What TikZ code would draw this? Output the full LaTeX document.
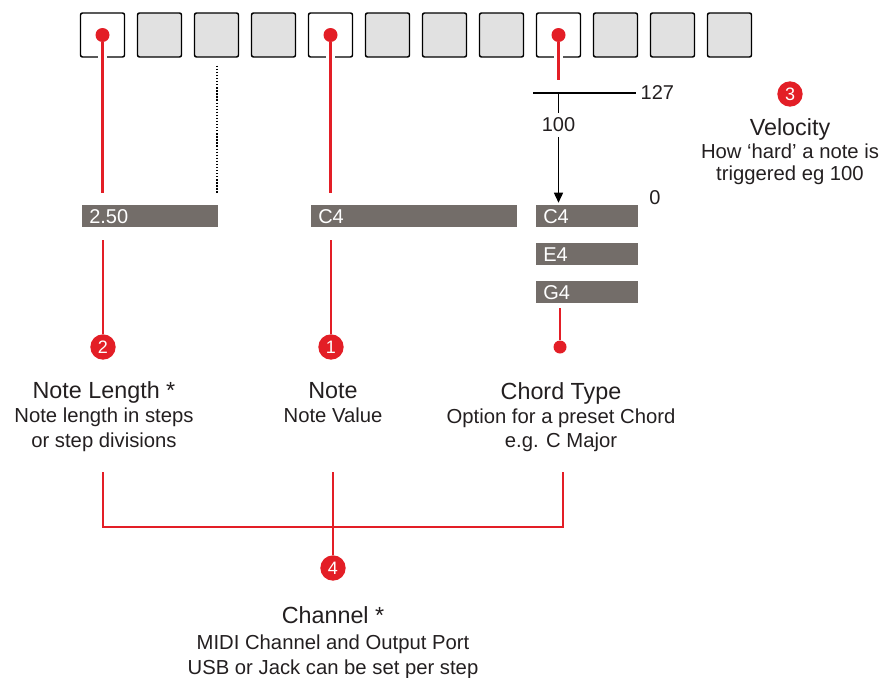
\documentclass[tikz,border=0pt]{standalone}
\usepackage{fontspec}
\setmainfont{Liberation Sans}
\usepackage{xcolor}
\usetikzlibrary{arrows.meta}
\definecolor{marker-red}{HTML}{E31E26}
\definecolor{bar-grey}{HTML}{736D69}
\definecolor{step-grey}{HTML}{E1E1E1}
\definecolor{ink}{HTML}{231F20}

\begin{document}
\begin{tikzpicture}[x=0.75pt, y=-0.75pt,
      every node/.style={text=ink},
      stepbox/.style={draw=black, line width=1.1pt, rounded corners=1.5pt,
                      minimum size=33pt, inner sep=0pt},
      stepdot/.style={circle, fill=marker-red, minimum size=10.5pt, inner sep=0pt},
      valbar/.style={fill=bar-grey, text=white, anchor=west, align=left,
                     minimum height=16.5pt, inner xsep=5.25pt, inner ysep=0pt,
                     text height=10.7pt, text depth=0pt,
                     font=\fontsize{15}{15}\selectfont},
      vallabel/.style={font=\fontsize{15}{15}\selectfont},
      marker/.style={circle, fill=marker-red, text=white, minimum size=19pt,
                     inner sep=0pt, font=\fontsize{13.5}{13.5}\selectfont},
      title/.style={anchor=base, font=\fontsize{17.5}{20}\selectfont},
      subtitle/.style={anchor=base, font=\fontsize{15.2}{18}\selectfont},
      redline/.style={draw=marker-red, line width=1.9pt},
      gap/.style={preaction={draw=white, line width=6.75pt}},
      blackline/.style={draw=black, line width=1.1pt},
      dotline/.style={draw=black, line width=1.5pt, dash pattern=on 1pt off 1.3pt}]
    \useasboundingbox (0,0) rectangle (885,678);

    % step row
    \foreach \i in {1,2,3,5,6,7,9,10,11}
      \node[stepbox, fill=step-grey] (s\i) at ({102.5+57*\i},35) {};
    \foreach \i in {0,4,8}
      \node[stepbox, fill=white] (s\i) at ({102.5+57*\i},35) {};
    \foreach \i in {0,4,8}
      \node[stepdot] (d\i) at (s\i.center) {};

    % value bars
    \node[valbar, text width=91.5pt] (blen) at (82,216) {2.50};
    \node[valbar, text width=144pt] (bnote) at (311,216) {C4};
    \node[valbar, text width=66pt] (bc) at (536,216) {C4};
    \node[valbar, text width=66pt] (be) at (536,254) {E4};
    \node[valbar, text width=66pt] (bg) at (536,292) {G4};

    \draw[dotline, shorten <=6pt, shorten >=9pt] (s2.south) -- (s2.south |- blen.north);

    % note length and note
    \node[marker] (m2) at (103,347) {2};
    \node[marker] (m1) at (331,347) {1};
    \draw[redline, gap, shorten >=9pt] (d0) -- (d0 |- blen.north);
    \draw[redline, gap, shorten >=9pt] (d4) -- (d4 |- bnote.north);
    \draw[redline, shorten <=9.75pt] (m2 |- blen.south) -- (m2);
    \draw[redline, shorten <=9.75pt] (m1 |- bnote.south) -- (m1);

    % velocity
    \coordinate (vtop) at (558.5,93);
    \coordinate (vleft) at (533,93);
    \node[vallabel, anchor=west] (vmax) at (636,93) {127};
    \node[vallabel] (vset) at (558.5,125) {100};
    \node[vallabel] (vmin) at (655,198) {0};
    \draw[redline, gap, shorten >=9.75pt] (d8) -- (vtop);
    \draw[blackline] (vleft) -- (vmax);
    \draw[blackline] (vtop) -- (vset);
    \draw[blackline, -{Triangle[width=6.75pt,length=7.5pt]}, shorten >=1.5pt]
      (vset) -- (vset |- bc.north);

    \node[marker] (m3) at (790,94) {3};
    \node[title] (tvel) at (790,135) {Velocity};
    \node[subtitle] (svel1) at (790,158) {How ‘hard’ a note is};
    \node[subtitle] (svel2) at (790,180) {triggered eg 100};

    % chord
    \node[stepdot, minimum size=9.75pt] (cdot) at (560,347) {};
    \draw[redline, shorten <=3.75pt] (cdot |- bg.south) -- (cdot);

    % titles
    \node[title] (tlen) at (104,398) {Note Length *};
    \node[subtitle] (slen1) at (104,422) {Note length in steps};
    \node[subtitle] (slen2) at (104,447) {or step divisions};
    \node[title] (tnote) at (333,398) {Note};
    \node[subtitle] (snote) at (333,422) {Note Value};
    \node[title] (tchord) at (561,399) {Chord Type};
    \node[subtitle] (schord1) at (561,423) {Option for a preset Chord};
    \node[subtitle] (schord2) at (561,447) {e.g. C Major};

    % channel
    \coordinate (jl) at (103,472);
    \coordinate (jm) at (333,472);
    \coordinate (jr) at (563,472);
    \node[marker] (m4) at (333,568) {4};
    \draw[redline] (jl) -- ++(0,55) -| (jr);
    \draw[redline] (jm) -- (m4);

    \node[title] (tchan) at (333,623) {Channel *};
    \node[subtitle] (schan1) at (333,649) {MIDI Channel and Output Port};
    \node[subtitle] (schan2) at (333,674) {USB or Jack can be set per step};
  \end{tikzpicture}
\end{document}
